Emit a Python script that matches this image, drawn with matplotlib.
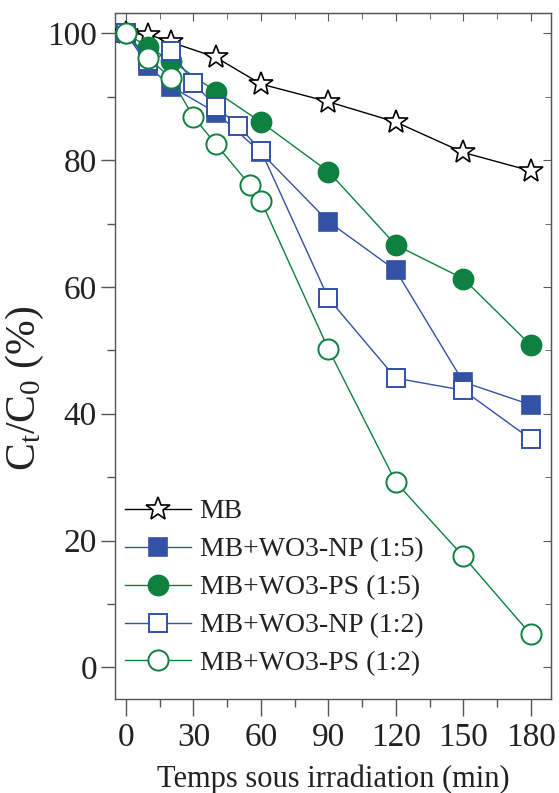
import matplotlib
matplotlib.use("Agg")
import matplotlib.pyplot as plt
from matplotlib.ticker import MultipleLocator

plt.rcParams['mathtext.fontset'] = 'custom'
plt.rcParams['mathtext.rm'] = 'Liberation Serif'
plt.rcParams['mathtext.it'] = 'Liberation Serif:italic'

t_mb = [0, 10, 20, 40, 60, 90, 120, 150, 180]
mb = [100, 99.8, 98.6, 96.2, 92.0, 89.2, 86.0, 81.2, 78.3]

t_np15 = [0, 10, 20, 40, 60, 90, 120, 150, 180]
np15 = [100, 94.8, 91.6, 87.5, 81.2, 70.3, 62.6, 45.0, 41.4]

t_ps15 = [0, 10, 20, 40, 60, 90, 120, 150, 180]
ps15 = [100, 97.8, 95.7, 90.8, 86.0, 78.2, 66.6, 61.3, 50.8]

t_np12 = [0, 10, 20, 30, 40, 50, 60, 90, 120, 150, 180]
np12 = [100, 95.6, 97.2, 92.2, 88.4, 85.4, 81.5, 58.2, 45.6, 43.7, 36.0]

t_ps12 = [0, 10, 20, 30, 40, 55, 60, 90, 120, 150, 180]
ps12 = [100, 96.1, 92.9, 86.8, 82.5, 76.1, 73.6, 50.2, 29.2, 17.5, 5.2]

labels = ["MB", "MB+WO3-NP (1:5)", "MB+WO3-PS (1:5)", "MB+WO3-NP (1:2)", "MB+WO3-PS (1:2)"]
xticks = [0, 30, 60, 90, 120, 150, 180]
yticks = [0, 20, 40, 60, 80, 100]

blue = "#3352a5"
green = "#0e8040"
serif = "Liberation Serif"
txtc = "#222222"
spc = "#555555"

fig = plt.figure(figsize=(5.59, 7.93), dpi=100)
ax = fig.add_axes([0.2057, 0.1185, 0.78, 0.8651])

ax.plot(t_mb, mb, color="black", lw=1.0, marker="*", ms=18, mfc="white", mec="black", mew=1.2, label=labels[0], zorder=3)
ax.plot(t_np15, np15, color=blue, lw=1.0, marker="s", ms=12.5, mfc=blue, mec=blue, mew=1.2, label=labels[1], zorder=4)
ax.plot(t_ps15, ps15, color=green, lw=1.0, marker="o", ms=14.5, mfc=green, mec=green, mew=1.2, label=labels[2], zorder=4)
ax.plot(t_np12, np12, color=blue, lw=1.0, marker="s", ms=12.5, mfc="white", mec=blue, mew=1.4, label=labels[3], zorder=5)
ax.plot(t_ps12, ps12, color=green, lw=1.0, marker="o", ms=14.5, mfc="white", mec=green, mew=1.4, label=labels[4], zorder=5)

ax.set_xlim(-4.9, 189)
ax.set_ylim(-5, 103.2)
ax.set_xticks(xticks)
ax.set_yticks(yticks)
ax.xaxis.set_minor_locator(MultipleLocator(15))
ax.yaxis.set_minor_locator(MultipleLocator(10))
ax.tick_params(axis="x", which="major", direction="out", length=12, width=1.0, color=spc,
               labelsize=24, top=False, pad=5)
ax.tick_params(axis="x", which="minor", direction="out", length=6, width=1.0, color=spc, top=False)
ax.tick_params(axis="y", which="major", direction="out", length=10, width=1.0, color=spc,
               labelsize=24, right=False, pad=3)
ax.tick_params(axis="y", which="minor", direction="out", length=6, width=1.0, color=spc, right=False)
for lab in ax.get_xticklabels() + ax.get_yticklabels():
    lab.set_fontfamily(serif)
    lab.set_color(txtc)

# inward ticks on top and right
ax2 = ax.secondary_xaxis("top")
ax2.set_xticks(xticks)
ax2.xaxis.set_minor_locator(MultipleLocator(15))
ax2.tick_params(which="major", direction="in", length=6, color=spc)
ax2.tick_params(which="minor", direction="in", length=4, color=spc)
ax2.set_xticklabels([])
ay2 = ax.secondary_yaxis("right")
ay2.set_yticks(yticks)
ay2.yaxis.set_minor_locator(MultipleLocator(10))
ay2.tick_params(which="major", direction="in", length=6, color=spc)
ay2.tick_params(which="minor", direction="in", length=4, color=spc)
ay2.set_yticklabels([])
for s in ax.spines.values():
    s.set_color(spc)
    s.set_linewidth(1.0)
for a in (ax2, ay2):
    for s in a.spines.values():
        s.set_color(spc)

ax.set_xlabel("Temps sous irradiation (min)", fontsize=22, fontfamily=serif, color=txtc, labelpad=8)
ax.set_ylabel(r"C$_{\mathrm{t}}$/C$_{\mathrm{0}}$ (%)", fontsize=30, fontfamily=serif, color=txtc)
ax.yaxis.set_label_coords(-0.158, 0.453)

leg = ax.legend(loc="lower left", frameon=False, prop={"family": serif, "size": 20},
                handlelength=2.4, handletextpad=0.3, labelspacing=0.45, borderaxespad=0.2,
                bbox_to_anchor=(-0.016, 0.009))
for txt in leg.get_texts():
    txt.set_color(txtc)

fig.savefig("out.png", dpi=100)
